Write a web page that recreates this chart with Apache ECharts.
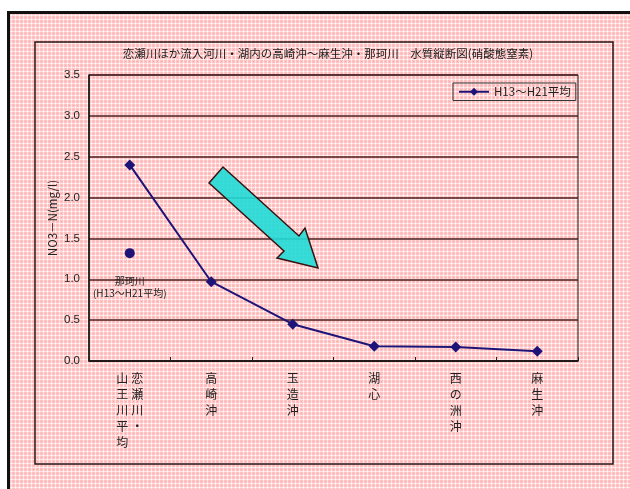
<!DOCTYPE html>
<html>
<head>
<meta charset="utf-8">
<script src="https://cdn.jsdelivr.net/npm/echarts@6/dist/echarts.min.js"></script>
<style>
  html, body { margin: 0; padding: 0; background: #fff; }
  #chart { width: 630px; height: 489px; }
</style>
</head>
<body>
<div id="chart"></div>
<script>
// 観測地点（上流から下流へ）
const categories = ['恋瀬川・山王川平均', '高崎沖', '玉造沖', '湖心', '西の洲沖', '麻生沖'];
// 硝酸態窒素 H13～H21平均 (mg/l)
const avgValues = [2.40, 0.97, 0.45, 0.18, 0.17, 0.12];
// 那珂川 H13～H21平均 (mg/l)
const nakaValue = 1.32;
const yTicks = [0, 0.5, 1.0, 1.5, 2.0, 2.5, 3.0, 3.5];

const seriesName = 'H13～H21平均';
const nakaName = '那珂川';

// 方眼状の背景タイル
function makeTile() {
  const c = document.createElement('canvas');
  c.width = 4; c.height = 4;
  const g = c.getContext('2d');
  g.fillStyle = '#ffc2c2'; g.fillRect(0, 0, 4, 4);
  g.fillStyle = '#ffe2e2'; g.fillRect(3, 0, 1, 4); g.fillRect(0, 3, 4, 1);
  g.fillStyle = '#ffffff'; g.fillRect(3, 3, 1, 1);
  g.fillStyle = '#ffa8a8'; g.fillRect(1, 1, 1, 1);
  return c;
}
const tile = makeTile();

// 縦書きラベル（1文字ずつ改行）
function verticalLabel(name) {
  if (name.indexOf('・') > 0 && name.length > 6) {
    // 2列組み：右列「恋瀬川・」、左列「山王川平均」
    const parts = name.split('・');
    const right = (parts[0] + '・').split('');
    const left = parts[1].split('');
    const n = Math.max(left.length, right.length);
    const rows = [];
    for (let i = 0; i < n; i++) {
      rows.push((left[i] || '　') + '\u2005' + (right[i] || '　'));
    }
    return rows.join('\n');
  }
  return name.split('').join('\n');
}

const chart = echarts.init(document.getElementById('chart'), null, { renderer: 'canvas' });

const fontCJK = '"Noto Sans CJK JP", "Liberation Sans", sans-serif';

chart.setOption({
  backgroundColor: '#ffffff',
  animation: false,
  title: {
    text: '恋瀬川ほか流入河川・湖内の高崎沖～麻生沖・那珂川　水質縦断図(硝酸態窒素)',
    left: 323,
    textAlign: 'center',
    top: 43,
    textStyle: { fontSize: 11.5, fontWeight: 'normal', color: '#1a1a1a', fontFamily: fontCJK }
  },
  graphic: [
    {
      type: 'rect', z: -10, silent: true,
      shape: { x: 8.5, y: 12.5, width: 700, height: 600 },
      style: { fill: { image: tile, repeat: 'repeat' }, stroke: '#111', lineWidth: 3 }
    },
    {
      type: 'rect', z: -9, silent: true,
      shape: { x: 35, y: 42, width: 578, height: 422 },
      style: { fill: 'none', stroke: '#2a1414', lineWidth: 1.5 }
    },
    {
      // 減少傾向を示す矢印
      type: 'polygon', z: 10, silent: true,
      shape: { points: [[223, 167], [299, 236], [305, 228], [318, 268], [277, 258], [284, 251], [209, 183]] },
      style: { fill: 'rgba(32, 220, 214, 0.9)', stroke: '#3a1010', lineWidth: 1.5 }
    }
  ],
  legend: {
    data: [seriesName],
    left: 453, top: 83,
    padding: [3, 5, 3, 5],
    itemWidth: 30, itemHeight: 10, itemGap: 5,
    borderColor: '#333', borderWidth: 1,
    textStyle: { fontSize: 11.5, color: '#222', fontFamily: fontCJK }
  },
  grid: {
    left: 89, top: 75, width: 489, height: 286,
    show: true, borderColor: '#222', borderWidth: 1, backgroundColor: 'transparent'
  },
  xAxis: {
    type: 'category',
    data: categories,
    boundaryGap: true,
    axisLine: { lineStyle: { color: '#111', width: 1.5 } },
    axisTick: { show: true, inside: true, length: 4, lineStyle: { color: '#222' } },
    axisLabel: {
      interval: 0, margin: 9, lineHeight: 16,
      fontSize: 12, color: '#222', fontFamily: fontCJK,
      verticalAlign: 'top',
      formatter: verticalLabel
    }
  },
  yAxis: {
    type: 'value',
    min: 0, max: 3.5, interval: 0.5,
    name: 'NO3－N(mg/l)',
    nameLocation: 'middle',
    nameGap: 36,
    nameMoveOverlap: false,
    nameRotate: 90,
    nameTextStyle: { fontSize: 11.5, color: '#222', fontFamily: fontCJK, verticalAlign: 'middle' },
    axisLine: { show: true, lineStyle: { color: '#111', width: 1.5 } },
    axisTick: { show: false },
    axisLabel: {
      margin: 9, fontSize: 11.5, color: '#222', fontFamily: '"Liberation Sans", sans-serif',
      formatter: v => yTicks.indexOf(v) >= 0 ? v.toFixed(1) : ''
    },
    splitLine: { show: true, lineStyle: { color: '#4a1e1e', width: 1.5 } }
  },
  series: [
    {
      name: seriesName,
      type: 'line',
      data: avgValues,
      symbol: 'diamond',
      symbolSize: 11,
      color: '#1e1478',
      lineStyle: { color: '#1e1478', width: 2 },
      itemStyle: { color: '#1e1478' },
      z: 5
    },
    {
      name: nakaName,
      type: 'scatter',
      data: [[0, nakaValue]],
      symbol: 'circle',
      symbolSize: 10,
      itemStyle: { color: '#1e1478', opacity: 1 },
      label: {
        show: true,
        position: 'bottom',
        distance: 17,
        formatter: '那珂川\n(H13～H21平均)',
        fontSize: 10, lineHeight: 12, color: '#222', fontFamily: fontCJK,
        align: 'center'
      },
      z: 5
    }
  ]
});
</script>
</body>
</html>
